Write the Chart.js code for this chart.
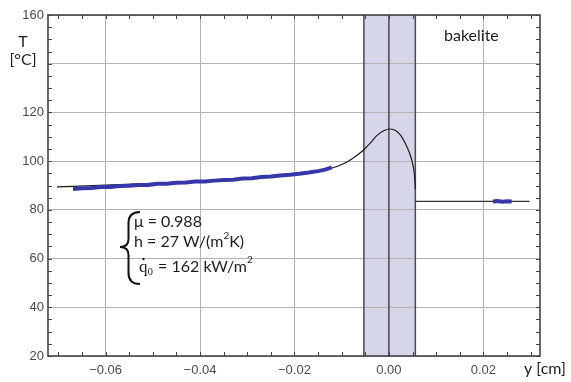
<!DOCTYPE html>
<html lang="en">
<head>
<meta charset="UTF-8">
<title>Temperature profile - bakelite</title>
<script src="https://cdn.jsdelivr.net/npm/chart.js"></script>
<style>
  html, body { margin: 0; padding: 0; background: #fff; }
  canvas { display: block; }
</style>
</head>
<body>
<canvas id="tempChart" width="571" height="382"></canvas>
<script>
// axis ranges and ticks
const xRange = [-0.0722, 0.032];
const yRange = [20, 160];
const xMajorTicks = [-0.06, -0.04, -0.02, 0.00, 0.02];
const yMajorTicks = [20, 40, 60, 80, 100, 120, 140, 160];
const yHiddenLabels = [140]; // sits under the "T [°C]" axis title

// heated layer (shaded band)
const bandEdges = [-0.0053, 0.0056];

// model curve, left of and through the heated layer
const modelX = [-0.0703, -0.06, -0.05, -0.04, -0.03, -0.02, -0.015, -0.012, -0.010, -0.008,
  -0.0053, -0.004, -0.0025, -0.001, 0.0003, 0.0015, 0.0025, 0.0035, 0.0044, 0.005, 0.0054, 0.0056];
const modelT = [89.4, 90.2, 90.9, 91.8, 92.9, 94.5, 95.8, 97.2, 98.6, 100.7,
  104.7, 107.3, 110.6, 112.6, 113.2, 112.5, 110.6, 107.2, 103.2, 99.2, 94.5, 88.5];

// model on the right side (bakelite)
const rightX = [0.0056, 0.0298];
const rightT = [83.5, 83.5];

// measured points
const measLeftX = [-0.0669, -0.065, -0.063, -0.061, -0.059, -0.057, -0.055, -0.053, -0.051, -0.049,
  -0.047, -0.045, -0.043, -0.041, -0.039, -0.037, -0.035, -0.033, -0.031, -0.029,
  -0.027, -0.025, -0.023, -0.021, -0.019, -0.017, -0.015, -0.0135, -0.0121];
const measLeftT = [88.6, 88.9, 89.0, 89.4, 89.4, 89.8, 89.9, 90.2, 90.2, 90.7,
  90.7, 91.1, 91.2, 91.6, 91.6, 92.0, 92.3, 92.4, 92.9, 93.0,
  93.5, 93.7, 94.1, 94.4, 94.8, 95.3, 95.9, 96.5, 97.4];
const measRightX = [0.0220, 0.0230, 0.0240, 0.0250, 0.0260];
const measRightT = [83.4, 83.6, 83.3, 83.5, 83.4];

const pts = (xs, ys) => xs.map((x, i) => ({ x: x, y: ys[i] }));

const fmtX = v => {
  const s = Math.abs(v).toFixed(2);
  return v < -1e-9 ? '\u2212' + s : s;
};
const fmtY = v => (yHiddenLabels.includes(v) ? '' : String(v));

// band fill, dark frame lines, inward tick marks and text labels
const decorations = {
  id: 'decorations',
  beforeDraw(chart) {
    const { ctx, chartArea: a, scales: { x } } = chart;
    const x0 = x.getPixelForValue(bandEdges[0]);
    const x1 = x.getPixelForValue(bandEdges[1]);
    ctx.save();
    ctx.fillStyle = '#d6d6ea';
    ctx.fillRect(x0, a.top, x1 - x0, a.bottom - a.top);
    ctx.restore();
  },
  beforeDatasetsDraw(chart) {
    const { ctx, chartArea: a, scales: { x, y } } = chart;
    ctx.save();
    ctx.strokeStyle = '#4a4a4a';
    ctx.lineWidth = 1.5;
    [bandEdges[0], 0, bandEdges[1]].forEach(v => {
      const px = x.getPixelForValue(v);
      ctx.beginPath();
      ctx.moveTo(px, a.top);
      ctx.lineTo(px, a.bottom);
      ctx.stroke();
    });

    // minor + major ticks, drawn inward on all four sides
    ctx.lineWidth = 1;
    ctx.strokeStyle = '#444';
    ctx.beginPath();
    for (let v = -0.07; v <= 0.0301; v += 0.005) {
      const px = Math.round(x.getPixelForValue(v)) + 0.5;
      ctx.moveTo(px, a.bottom); ctx.lineTo(px, a.bottom - 4);
      ctx.moveTo(px, a.top); ctx.lineTo(px, a.top + 4);
    }
    for (let v = 20; v <= 160; v += 5) {
      const py = Math.round(y.getPixelForValue(v)) + 0.5;
      ctx.moveTo(a.left, py); ctx.lineTo(a.left + 4, py);
      ctx.moveTo(a.right, py); ctx.lineTo(a.right - 4, py);
    }
    ctx.stroke();

    ctx.lineWidth = 1.6;
    ctx.strokeStyle = '#444';
    ctx.strokeRect(a.left, a.top, a.right - a.left, a.bottom - a.top);
    ctx.restore();
  },
  afterDraw(chart) {
    const { ctx } = chart;
    ctx.save();
    ctx.fillStyle = '#1e1e1e';
    ctx.textBaseline = 'alphabetic';
    ctx.font = '16px Lato';

    ctx.textAlign = 'center';
    ctx.fillText('T', 23, 47);
    ctx.fillText('[°C]', 23, 65);
    ctx.textAlign = 'left';
    ctx.fillText('bakelite', 444, 41);
    ctx.fillText('y [cm]', 524, 374);

    // parameter block with brace
    ctx.strokeStyle = '#111';
    ctx.lineWidth = 2;
    ctx.beginPath();
    ctx.moveTo(140, 212);
    ctx.quadraticCurveTo(128.5, 212, 128.5, 223);
    ctx.lineTo(128.5, 239);
    ctx.quadraticCurveTo(128.5, 247, 120, 247);
    ctx.quadraticCurveTo(128.5, 247, 128.5, 255);
    ctx.lineTo(128.5, 273);
    ctx.quadraticCurveTo(128.5, 284, 140, 284);
    ctx.stroke();

    let px = 134;
    ctx.fillText('\u03bc = 0.988', px, 227);

    px = 134;
    const l2a = 'h = 27 W/(m';
    ctx.fillText(l2a, px, 247);
    px += ctx.measureText(l2a).width;
    ctx.font = '10px Lato';
    ctx.fillText('2', px, 239);
    px += ctx.measureText('2').width;
    ctx.font = '16px Lato';
    ctx.fillText('K)', px, 247);

    px = 139;
    ctx.font = '17px "Liberation Serif"';
    ctx.fillText('q', px, 272);
    ctx.beginPath();
    ctx.arc(px + 4.5, 259, 1.2, 0, Math.PI * 2);
    ctx.fill();
    px += ctx.measureText('q').width;
    ctx.font = '11px "Liberation Serif"';
    ctx.fillText('0', px, 275);
    px += ctx.measureText('0').width + 1;
    ctx.font = '16px Lato';
    const l3 = ' = 162 kW/m';
    ctx.fillText(l3, px, 272);
    px += ctx.measureText(l3).width;
    ctx.font = '10px Lato';
    ctx.fillText('2', px, 263);
    ctx.restore();
  }
};

const tickFont = { family: '"Liberation Sans", Arial, sans-serif', size: 13 };

new Chart(document.getElementById('tempChart').getContext('2d'), {
  type: 'line',
  data: {
    datasets: [
      {
        label: 'measured',
        data: pts(measLeftX, measLeftT),
        borderColor: '#3636a8',
        borderWidth: 4,
        pointRadius: 0,
        tension: 0
      },
      {
        label: 'measured (right)',
        data: pts(measRightX, measRightT),
        borderColor: '#3636a8',
        borderWidth: 4,
        pointRadius: 0,
        tension: 0
      },
      {
        label: 'model',
        data: pts(modelX, modelT),
        borderColor: '#1a1a1a',
        borderWidth: 1.2,
        pointRadius: 0,
        cubicInterpolationMode: 'monotone'
      },
      {
        label: 'model (right)',
        data: pts(rightX, rightT),
        borderColor: '#333',
        borderWidth: 1.3,
        pointRadius: 0
      }
    ]
  },
  options: {
    responsive: false,
    animation: false,
    events: [],
    layout: { padding: { top: 15, right: 31, left: 0, bottom: 0 } },
    plugins: {
      legend: { display: false },
      tooltip: { enabled: false }
    },
    scales: {
      x: {
        type: 'linear',
        min: xRange[0],
        max: xRange[1],
        afterBuildTicks: s => { s.ticks = xMajorTicks.map(v => ({ value: v })); },
        afterFit: s => { s.height = 26; },
        ticks: { font: tickFont, color: '#4a4a4a', padding: 7, maxRotation: 0, callback: fmtX },
        grid: { color: '#b4b4b4', lineWidth: 1, drawTicks: false },
        border: { display: false }
      },
      y: {
        min: yRange[0],
        max: yRange[1],
        afterBuildTicks: s => { s.ticks = yMajorTicks.map(v => ({ value: v })); },
        afterFit: s => { s.width = 48; },
        ticks: { font: tickFont, color: '#4a4a4a', padding: 4, callback: fmtY },
        grid: { color: '#b4b4b4', lineWidth: 1, drawTicks: false },
        border: { display: false }
      }
    }
  },
  plugins: [decorations]
});
</script>
</body>
</html>
